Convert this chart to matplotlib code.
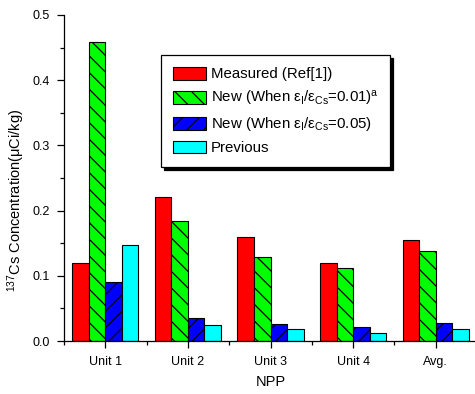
import numpy as np
import matplotlib
matplotlib.use('Agg')
import matplotlib.pyplot as plt
from matplotlib.ticker import MultipleLocator, FixedLocator, FormatStrFormatter

plt.rcParams['font.family'] = ['Liberation Sans', 'DejaVu Sans']
plt.rcParams['mathtext.fontset'] = 'custom'
plt.rcParams['mathtext.rm'] = 'Liberation Sans'
plt.rcParams['mathtext.it'] = 'Liberation Sans'
plt.rcParams['hatch.linewidth'] = 0.9

# data
units = ['Unit 1', 'Unit 2', 'Unit 3', 'Unit 4', 'Avg.']
measured = [0.120, 0.221, 0.159, 0.119, 0.155]
new_001 = [0.458, 0.184, 0.129, 0.112, 0.138]
new_005 = [0.091, 0.036, 0.026, 0.022, 0.027]
previous = [0.147, 0.024, 0.018, 0.013, 0.018]

labels = ['Measured (Ref[1])',
          r'New (When $\mathregular{ε_I/ε_{Cs}}$=0.01)$\mathregular{^a}$',
          r'New (When $\mathregular{ε_I/ε_{Cs}}$=0.05)',
          'Previous']
colors = ['#ff0000', '#00ff00', '#0000ff', '#00ffff']
hatches = [None, '\\\\', '//', None]

fig = plt.figure(figsize=(4.75, 3.94), dpi=100)
ax = fig.add_axes([64/475, 53/394, 413/475, 326/394])

x = np.arange(len(units))
width = 0.2
series = [measured, new_001, new_005, previous]
for i, vals in enumerate(series):
    ax.bar(x + (i - 1.5) * width, vals, width, color=colors[i], edgecolor='black',
           linewidth=0.8, hatch=hatches[i], label=labels[i])

ax.set_xlim(-0.5, 4.5)
ax.set_ylim(0, 0.5)
ax.set_xticks(x)
ax.set_xticklabels(units)
ax.xaxis.set_minor_locator(FixedLocator(np.arange(-0.5, 5, 1.0)))
ax.yaxis.set_major_locator(MultipleLocator(0.1))
ax.yaxis.set_minor_locator(MultipleLocator(0.05))
ax.yaxis.set_major_formatter(FormatStrFormatter('%.1f'))
ax.tick_params(axis='both', which='major', direction='out', length=5, width=0.9)
ax.tick_params(axis='both', which='minor', direction='out', length=3, width=0.9)
ax.tick_params(axis='x', which='major', pad=6, labelsize=9)
ax.tick_params(axis='y', which='major', pad=5, labelsize=9)

for s in ['top', 'right']:
    ax.spines[s].set_visible(False)
for s in ['left', 'bottom']:
    ax.spines[s].set_linewidth(0.9)

ax.set_xlabel('NPP', fontsize=10.5, labelpad=5)
ax.set_ylabel(r'$\mathregular{^{137}}$Cs Concentration($\mathregular{μ}$Ci/kg)', fontsize=10.5)
ax.yaxis.set_label_coords(-0.09, 0.43)

leg = ax.legend(loc='upper left', bbox_to_anchor=(0.235, 0.877), borderaxespad=0,
                prop={'size': 10.8}, frameon=True, fancybox=False, edgecolor='black',
                shadow={'color': 'black', 'alpha': 1.0},
                handlelength=2.2, handleheight=0.9, labelspacing=0.5,
                handletextpad=0.3, borderpad=0.8)
leg.get_frame().set_linewidth(0.9)

fig.savefig('out.png', dpi=100)
